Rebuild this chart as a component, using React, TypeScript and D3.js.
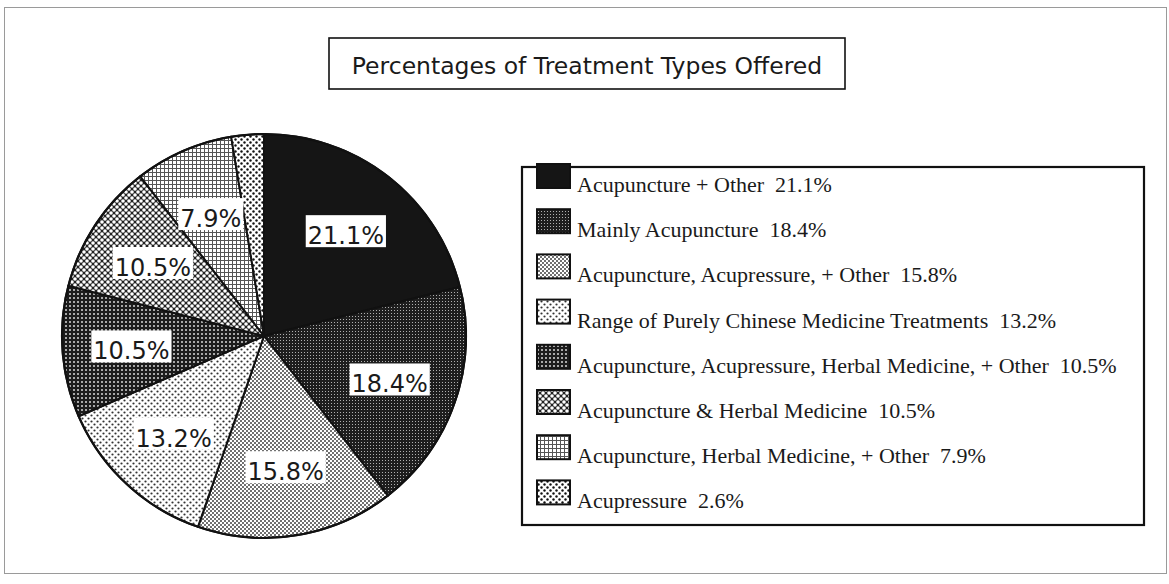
import React from "react";
import * as d3 from "d3";

const categories = [
  "Acupuncture + Other",
  "Mainly Acupuncture",
  "Acupuncture, Acupressure, + Other",
  "Range of Purely Chinese Medicine Treatments",
  "Acupuncture, Acupressure, Herbal Medicine, + Other",
  "Acupuncture & Herbal Medicine",
  "Acupuncture, Herbal Medicine, + Other",
  "Acupressure",
];
const values = [21.1, 18.4, 15.8, 13.2, 10.5, 10.5, 7.9, 2.6];
const showLabel = [true, true, true, true, true, true, true, false];
const patternIds = ["p-solid", "p-dark", "p-light", "p-range", "p-grid", "p-cross", "p-lines", "p-sparse"];
const title = "Percentages of Treatment Types Offered";

const W = 1169;
const H = 584;
const cx = 264;
const cy = 336;
const R = 202;
const labelR = 133;

const Patterns = () => (
  <defs>
    <pattern id="p-solid" width="4" height="4" patternUnits="userSpaceOnUse">
      <rect width="4" height="4" fill="#151515" />
    </pattern>
    <pattern id="p-dark" width="3" height="3" patternUnits="userSpaceOnUse">
      <rect width="3" height="3" fill="#1e1e1e" />
      <rect x="1" y="1" width="1" height="1" fill="#b0b0b0" />
    </pattern>
    <pattern id="p-light" width="4" height="4" patternUnits="userSpaceOnUse">
      <rect width="4" height="4" fill="#ffffff" />
      <circle cx="1" cy="1" r="0.95" fill="#333" />
      <circle cx="3" cy="3" r="0.95" fill="#333" />
    </pattern>
    <pattern id="p-range" width="6" height="6" patternUnits="userSpaceOnUse">
      <rect width="6" height="6" fill="#ffffff" />
      <circle cx="1.5" cy="1.5" r="1.1" fill="#333" />
      <circle cx="4.5" cy="4.5" r="1.1" fill="#333" />
    </pattern>
    <pattern id="p-grid" width="4" height="4" patternUnits="userSpaceOnUse">
      <rect width="4" height="4" fill="#1c1c1c" />
      <rect x="1" y="1" width="2" height="2" fill="#a8a8a8" />
    </pattern>
    <pattern id="p-cross" width="6" height="6" patternUnits="userSpaceOnUse">
      <rect width="6" height="6" fill="#222" />
      <circle cx="0" cy="0" r="1.8" fill="#fff" />
      <circle cx="6" cy="0" r="1.8" fill="#fff" />
      <circle cx="0" cy="6" r="1.8" fill="#fff" />
      <circle cx="6" cy="6" r="1.8" fill="#fff" />
      <circle cx="3" cy="3" r="1.8" fill="#fff" />
    </pattern>
    <pattern id="p-lines" width="4" height="4" patternUnits="userSpaceOnUse">
      <rect width="4" height="4" fill="#ffffff" />
      <rect x="0" y="0" width="4" height="1" fill="#555" />
      <rect x="0" y="0" width="1" height="4" fill="#555" />
    </pattern>
    <pattern id="p-sparse" width="6" height="6" patternUnits="userSpaceOnUse">
      <rect width="6" height="6" fill="#ffffff" />
      <circle cx="1.5" cy="1.5" r="1.2" fill="#111" />
      <circle cx="4.5" cy="4.5" r="1.2" fill="#111" />
    </pattern>
  </defs>
);

export default function App() {
  const pie = d3.pie<number>().sort(null).value((d) => d).startAngle(0).endAngle(2 * Math.PI);
  const arcs = pie(values);
  const arc = d3.arc<d3.PieArcDatum<number>>().innerRadius(0).outerRadius(R);
  const labelArc = d3.arc<d3.PieArcDatum<number>>().innerRadius(labelR).outerRadius(labelR);

  const legendX = 522;
  const legendY = 167;
  const legendW = 622;
  const legendH = 358;
  const rowY = d3.scaleLinear().domain([0, 1]).range([192, 237.2]);

  const labelFont = 24;
  const charW = (s: string) => {
    let w = 0;
    for (const c of s) {
      if (c === ".") w += 0.318;
      else if (c === "%") w += 0.95;
      else w += 0.636;
    }
    return w * labelFont;
  };

  return (
    <svg width={W} height={H} style={{ position: "absolute", left: 0, top: 0, background: "#fff" }}>
      <Patterns />
      <rect x={0} y={0} width={W} height={H} fill="#fff" />
      <rect x={4.5} y={7.5} width={1162} height={566} fill="none" stroke="#9a9a9a" strokeWidth={1} />

      {/* Title */}
      <rect x={329} y={38} width={516} height={51} fill="#fff" stroke="#111" strokeWidth={1.6} />
      <text
        x={587}
        y={74}
        textAnchor="middle"
        fontFamily="'DejaVu Sans', Verdana, sans-serif"
        fontSize={23.5}
        fill="#1a1a1a"
      >
        {title}
      </text>

      {/* Pie */}
      <g transform={`translate(${cx},${cy})`}>
        {arcs.map((a, i) => (
          <path key={i} d={arc(a) || ""} fill={`url(#${patternIds[i]})`} stroke="#111" strokeWidth={2} strokeLinejoin="round" />
        ))}
        <circle r={R} fill="none" stroke="#111" strokeWidth={2.2} />
        {arcs.map((a, i) => {
          if (!showLabel[i]) return null;
          const [lx, ly] = labelArc.centroid(a);
          const txt = `${values[i]}%`;
          const tw = charW(txt);
          return (
            <g key={`l${i}`} transform={`translate(${lx},${ly})`}>
              <rect x={-tw / 2 - 2} y={-16} width={tw + 4} height={32} fill="#fff" />
              <text
                x={0}
                y={13}
                textAnchor="middle"
                fontFamily="'DejaVu Sans', Verdana, sans-serif"
                fontSize={labelFont}
                fill="#1a1a1a"
              >
                {txt}
              </text>
            </g>
          );
        })}
      </g>

      {/* Legend */}
      <rect x={legendX} y={legendY} width={legendW} height={legendH} fill="#fff" stroke="#111" strokeWidth={2.2} />
      {categories.map((c, i) => {
        const by = rowY(i);
        return (
          <g key={`lg${i}`}>
            <rect x={537} y={by - 28} width={33} height={24} fill={`url(#${patternIds[i]})`} stroke="#111" strokeWidth={2} />
            <text
              x={577}
              y={by}
              fontFamily="'Liberation Serif', 'Times New Roman', serif"
              fontSize={22}
              fill="#1a1a1a"
              style={{ whiteSpace: "pre" }}
            >
              {`${c}  ${values[i]}%`}
            </text>
          </g>
        );
      })}
    </svg>
  );
}
